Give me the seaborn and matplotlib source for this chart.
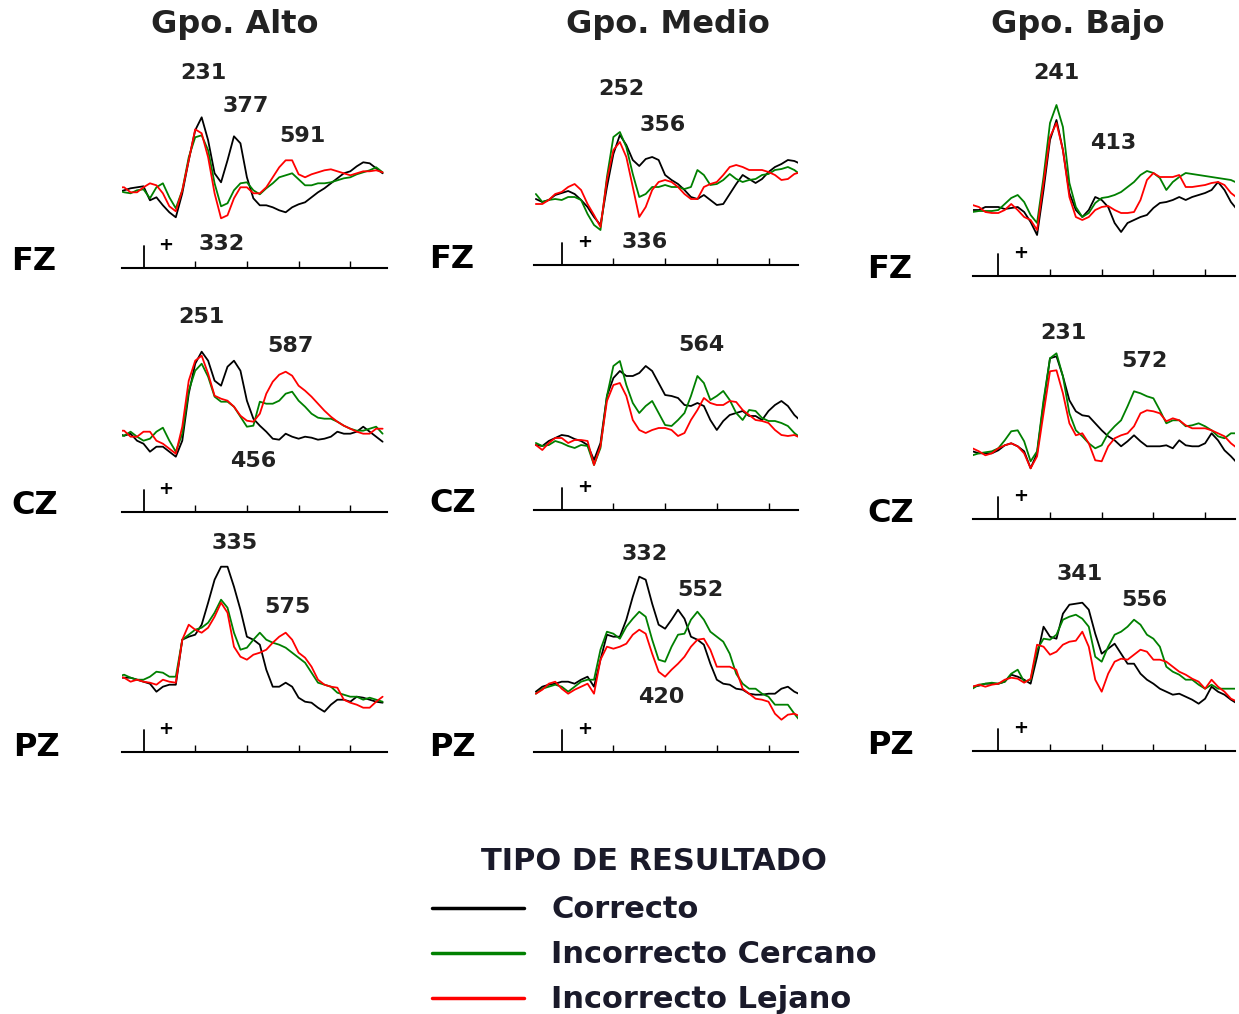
import matplotlib
matplotlib.use("Agg")
import matplotlib.pyplot as plt
import seaborn as sns
import pandas as pd
from matplotlib.lines import Line2D

# ---------------- data (amplitude in microvolts, relative to baseline) -------------
TIMES = list(range(-100, 926, 25))  # ms

FZ_ALTO_CORRECTO = [-0.2, 0.0, 0.2, 0.3, 0.4, -1.0, -0.7, -1.5, -2.2, -2.7, -0.3, 3.0, 6.0, 7.3, 5.0, 1.7, 0.8, 3.0, 5.4, 4.7, 1.3, -0.8, -1.5, -1.5, -1.7, -2.0, -2.2, -1.7, -1.4, -1.2, -0.7, -0.2, 0.2, 0.7, 1.2, 1.7, 1.9, 2.4, 2.8, 2.7, 2.2, 1.7]
FZ_ALTO_CERCANO = [0.0, -0.2, -0.3, 0.0, 0.1, -0.8, 0.3, 0.7, -0.7, -1.8, 0.0, 3.3, 5.3, 5.5, 4.0, 0.7, -1.6, -1.3, 0.0, 0.7, 0.8, 0.0, -0.4, 0.2, 0.7, 1.3, 1.5, 1.7, 1.1, 0.5, 0.5, 0.7, 0.7, 0.8, 1.0, 1.2, 1.3, 1.6, 1.8, 2.0, 2.3, 1.8]
FZ_ALTO_LEJANO = [0.3, 0.3, -0.2, -0.2, 0.3, 0.7, 0.5, -0.3, -1.6, -2.1, 0.0, 3.0, 6.1, 5.7, 3.3, -0.3, -2.8, -2.5, -0.8, 0.3, 0.3, -0.3, -0.3, 0.3, 1.3, 2.3, 3.0, 3.0, 1.6, 1.3, 1.6, 1.8, 2.0, 2.1, 1.9, 1.7, 1.5, 1.7, 1.9, 1.9, 2.0, 1.8]

CZ_ALTO_CORRECTO = [0.0, -0.2, 0.0, -0.7, -1.0, -1.8, -1.3, -1.3, -1.8, -2.3, -0.7, 4.0, 7.0, 8.2, 7.3, 5.3, 4.8, 6.7, 7.3, 6.3, 3.3, 1.5, 0.8, 0.2, -0.5, -0.6, 0.0, -0.3, -0.5, -0.3, -0.4, -0.6, -0.5, -0.3, 0.2, 0.0, 0.0, 0.2, 0.7, 0.2, -0.3, -0.8]
CZ_ALTO_CERCANO = [-0.2, -0.2, 0.2, -0.3, -0.7, -0.5, 0.2, 0.6, -0.7, -1.8, 0.0, 4.3, 6.3, 7.0, 5.7, 3.7, 3.2, 3.2, 2.7, 1.7, 0.7, 0.8, 3.2, 3.0, 3.0, 3.3, 4.0, 4.2, 3.3, 2.7, 2.0, 1.6, 1.5, 1.5, 1.2, 0.8, 0.5, 0.3, 0.3, 0.5, 0.7, 0.0]
CZ_ALTO_LEJANO = [0.3, 0.3, -0.3, -0.3, 0.2, 0.2, -0.7, -1.0, -1.5, -2.0, 0.7, 5.3, 7.3, 7.8, 6.0, 3.8, 3.5, 3.3, 2.7, 1.8, 1.3, 1.2, 2.0, 4.0, 5.2, 5.9, 6.2, 5.8, 4.8, 4.3, 3.7, 3.0, 2.3, 1.7, 1.2, 0.8, 0.5, 0.2, 0.0, 0.0, 0.5, 0.5]

PZ_ALTO_CORRECTO = [0.2, 0.2, 0.2, 0.0, -0.2, -0.4, -1.2, -0.7, -0.5, -0.5, 4.0, 4.3, 4.5, 5.5, 7.7, 10.0, 11.3, 11.3, 9.3, 7.0, 4.3, 4.0, 3.5, 1.0, -0.7, -0.7, -0.3, -0.7, -1.8, -2.2, -2.3, -2.8, -3.2, -2.5, -2.0, -2.0, -2.2, -1.7, -1.8, -2.0, -2.2, -2.3]
PZ_ALTO_CERCANO = [0.3, 0.5, 0.2, 0.0, 0.0, 0.3, 0.8, 0.7, 0.3, 0.3, 4.0, 4.5, 5.0, 5.2, 5.7, 6.7, 8.0, 7.2, 4.7, 3.0, 3.2, 4.0, 4.7, 4.0, 3.7, 3.5, 3.2, 2.7, 2.2, 1.7, 0.7, -0.3, -0.5, -0.7, -1.3, -1.5, -1.7, -1.7, -2.0, -1.8, -2.0, -2.2]
PZ_ALTO_LEJANO = [0.3, 0.2, -0.2, 0.0, -0.2, -0.3, -0.5, 0.0, -0.2, -0.3, 4.0, 5.5, 5.0, 4.7, 5.2, 6.3, 7.7, 6.7, 3.3, 2.3, 2.0, 2.5, 2.7, 3.0, 3.7, 4.3, 4.7, 4.0, 2.7, 2.2, 1.3, 0.0, -0.5, -0.7, -0.8, -2.0, -2.3, -2.5, -2.8, -2.8, -2.2, -1.7]

FZ_MEDIO_CORRECTO = [0.3, 0.0, 0.2, 0.7, 0.9, 1.1, 0.8, 0.2, -0.5, -1.5, -2.3, 1.5, 4.8, 6.7, 5.7, 4.2, 3.6, 4.3, 4.5, 4.2, 2.7, 2.2, 1.8, 1.2, 0.5, 0.3, 0.7, 0.2, -0.3, -0.2, 0.8, 1.8, 2.7, 2.3, 1.9, 2.3, 3.0, 3.5, 3.8, 4.2, 4.1, 3.8]
FZ_MEDIO_CERCANO = [0.8, 0.0, 0.2, 0.3, 0.2, 0.5, 0.5, 0.2, -1.2, -2.3, -2.8, 2.5, 6.5, 7.0, 5.5, 2.8, 0.5, 0.8, 1.5, 1.5, 1.7, 1.5, 1.5, 1.3, 1.5, 3.2, 2.7, 1.7, 1.8, 2.2, 2.8, 2.3, 2.0, 2.2, 2.3, 2.7, 2.8, 3.2, 3.3, 3.5, 3.2, 2.7]
FZ_MEDIO_LEJANO = [-0.2, -0.2, 0.2, 0.8, 1.0, 1.5, 1.8, 1.2, -0.2, -1.3, -2.5, 2.2, 5.2, 6.0, 4.5, 1.5, -1.5, -0.5, 1.2, 2.0, 2.2, 2.0, 1.5, 0.8, 0.3, 0.3, 1.5, 1.8, 2.0, 2.7, 3.5, 3.7, 3.5, 3.2, 3.2, 3.2, 3.0, 2.7, 2.2, 2.3, 2.8, 3.0]

CZ_MEDIO_CORRECTO = [-0.2, -0.3, 0.2, 0.5, 0.8, 0.7, 0.4, 0.2, -0.2, -1.7, 0.0, 4.7, 6.5, 7.2, 6.7, 6.7, 7.0, 7.7, 7.2, 6.0, 4.8, 4.7, 4.5, 3.8, 3.7, 4.0, 3.7, 2.3, 1.3, 2.2, 2.8, 3.0, 3.2, 2.7, 2.7, 2.3, 3.2, 3.8, 4.2, 3.7, 2.8, 2.2]
CZ_MEDIO_CERCANO = [0.0, -0.3, -0.2, 0.2, 0.0, -0.3, -0.5, -0.2, -0.3, -2.2, -0.5, 4.7, 7.7, 8.2, 5.8, 4.0, 3.0, 3.7, 4.2, 3.0, 1.8, 1.7, 2.3, 3.0, 4.7, 6.7, 6.0, 4.3, 4.7, 5.2, 4.3, 3.0, 2.3, 3.3, 3.2, 2.5, 2.2, 2.2, 2.0, 1.7, 1.0, 0.5]
CZ_MEDIO_LEJANO = [-0.2, -0.7, 0.0, 0.5, 0.5, 0.0, 0.3, 0.3, 0.2, -2.2, -0.3, 4.2, 5.8, 6.0, 4.7, 2.3, 1.3, 1.0, 1.3, 1.5, 1.5, 1.3, 0.7, 1.0, 2.3, 3.3, 4.5, 4.0, 3.8, 3.8, 4.2, 4.1, 3.3, 2.8, 2.3, 2.2, 2.0, 1.3, 0.8, 0.7, 0.8, 0.5]

PZ_MEDIO_CORRECTO = [0.0, 0.5, 0.7, 0.8, 1.0, 1.0, 0.8, 1.2, 1.5, 0.5, 3.2, 5.7, 5.5, 5.5, 7.2, 9.5, 11.5, 11.2, 8.8, 6.7, 6.3, 7.2, 8.2, 7.3, 5.5, 5.2, 4.7, 2.8, 1.2, 0.8, 0.7, 0.3, 0.2, -0.2, -0.3, -0.3, -0.2, -0.2, 0.3, 0.5, 0.0, -0.3]
PZ_MEDIO_CERCANO = [-0.2, 0.3, 0.5, 0.7, 0.5, 0.0, 0.5, 1.0, 1.2, 1.2, 4.2, 6.0, 5.8, 5.3, 6.5, 7.3, 8.0, 7.5, 5.2, 3.2, 3.0, 4.5, 5.7, 5.8, 7.2, 8.0, 7.2, 6.0, 5.5, 5.0, 3.8, 1.8, 0.8, 0.3, 0.3, -0.2, -0.5, -1.3, -1.3, -1.3, -2.2, -3.0]
PZ_MEDIO_LEJANO = [-0.2, 0.2, 0.8, 1.0, 0.3, -0.2, 0.2, 0.5, 0.8, -0.2, 3.2, 4.5, 4.3, 4.5, 4.8, 5.7, 6.2, 5.8, 3.8, 2.0, 1.5, 2.2, 2.8, 3.5, 4.5, 5.2, 5.3, 4.2, 2.5, 2.5, 2.5, 2.2, 0.3, -0.2, -0.7, -0.8, -1.0, -2.2, -2.8, -2.3, -2.2, -2.5]

FZ_BAJO_CORRECTO = [0.0, 0.0, 0.3, 0.3, 0.3, 0.1, 0.2, 0.3, -0.2, -1.2, -2.5, 2.0, 7.0, 9.0, 6.0, 1.7, 0.0, -0.7, 0.0, 1.3, 1.0, 0.3, -1.3, -2.2, -1.3, -1.0, -0.7, -0.5, 0.2, 0.7, 0.8, 1.0, 1.3, 1.0, 1.3, 1.5, 1.7, 2.0, 2.8, 2.0, 0.8, 0.0]
FZ_BAJO_CERCANO = [-0.2, -0.1, -0.1, -0.1, 0.0, 0.6, 1.2, 1.5, 0.8, -0.5, -1.3, 3.3, 8.7, 10.5, 8.3, 2.7, 0.3, -0.7, -0.3, 0.7, 1.2, 1.3, 1.5, 1.8, 2.3, 2.8, 3.5, 3.9, 3.7, 3.2, 2.0, 2.8, 3.3, 3.7, 3.6, 3.5, 3.4, 3.3, 3.2, 3.1, 3.0, 2.7]
FZ_BAJO_LEJANO = [0.5, 0.3, -0.2, -0.3, -0.3, 0.0, 0.6, 0.0, -0.7, -1.0, -2.0, 2.7, 7.3, 8.7, 6.0, 1.3, -0.7, -1.0, -0.7, 0.0, 0.3, 0.4, 0.0, -0.3, -0.3, -0.2, 1.0, 3.0, 3.7, 3.3, 3.3, 3.3, 3.5, 2.3, 2.3, 2.4, 2.5, 2.7, 2.8, 2.5, 1.7, 1.2]

CZ_BAJO_CORRECTO = [0.2, 0.0, 0.0, 0.0, 0.3, 0.8, 1.0, 0.7, 0.2, -1.5, 0.0, 5.0, 9.5, 9.7, 7.7, 5.3, 4.2, 3.8, 3.7, 3.0, 2.3, 1.7, 1.3, 0.7, 1.2, 1.8, 1.2, 0.7, 0.7, 0.7, 0.8, 0.5, 1.3, 0.8, 0.7, 0.7, 1.0, 2.0, 1.3, 0.3, -0.3, -1.0]
CZ_BAJO_CERCANO = [-0.2, 0.0, 0.1, 0.2, 0.5, 1.3, 2.2, 2.3, 1.2, -0.8, 0.2, 5.3, 9.5, 10.0, 7.7, 4.0, 2.3, 1.7, 1.0, 0.5, 0.8, 2.0, 2.7, 3.3, 4.7, 6.2, 6.0, 5.7, 5.5, 4.3, 3.0, 3.3, 3.3, 2.7, 2.8, 3.0, 2.7, 2.3, 1.7, 1.5, 2.0, 2.0]
CZ_BAJO_LEJANO = [0.5, 0.2, -0.2, 0.0, 0.5, 0.8, 1.0, 0.7, 0.0, -1.5, -0.3, 4.0, 8.2, 8.3, 6.0, 3.0, 1.8, 2.0, 1.0, -0.7, -0.8, 0.7, 1.5, 1.8, 2.0, 2.7, 4.0, 4.3, 4.2, 4.0, 3.2, 3.5, 3.3, 2.8, 2.5, 2.5, 2.5, 2.3, 2.0, 1.7, 1.0, 0.5]

PZ_BAJO_CORRECTO = [0.0, 0.1, 0.3, 0.3, 0.3, 0.5, 1.2, 1.0, 0.7, 0.3, 3.0, 6.0, 5.0, 4.8, 7.3, 8.2, 8.3, 8.4, 7.7, 5.3, 3.3, 3.8, 4.3, 3.3, 2.3, 2.3, 1.3, 0.7, 0.3, -0.2, -0.5, -0.8, -0.7, -1.0, -1.3, -1.7, -1.2, 0.0, -0.5, -0.8, -1.3, -1.7]
PZ_BAJO_CERCANO = [-0.2, 0.2, 0.3, 0.4, 0.3, 0.5, 1.3, 1.7, 0.5, 0.7, 3.7, 4.8, 4.7, 5.2, 6.7, 7.0, 7.2, 6.8, 6.0, 3.0, 2.5, 4.0, 5.2, 5.5, 6.0, 6.7, 6.2, 5.2, 4.8, 4.0, 2.0, 1.5, 1.2, 0.7, 0.7, 0.2, -0.2, 0.2, -0.2, -0.2, -0.2, -0.2]
PZ_BAJO_LEJANO = [0.0, 0.2, 0.0, 0.2, 0.3, 0.7, 0.9, 0.8, 0.4, 0.8, 4.2, 4.0, 3.2, 3.5, 4.2, 4.5, 4.6, 5.5, 4.0, 0.7, -0.5, 1.3, 2.5, 2.8, 2.7, 3.2, 3.7, 3.5, 2.7, 2.7, 2.5, 2.0, 1.5, 1.2, 0.8, 0.5, -0.2, 0.7, 0.0, -0.5, -1.2, -1.5]

GROUPS = ["Gpo. Alto", "Gpo. Medio", "Gpo. Bajo"]
ELECTRODES = ["FZ", "CZ", "PZ"]
CONDITIONS = ["Correcto", "Incorrecto Cercano", "Incorrecto Lejano"]
LEGEND_TITLE = "TIPO DE RESULTADO"

WAVES = {
    ("Gpo. Alto", "FZ"): [FZ_ALTO_CORRECTO, FZ_ALTO_CERCANO, FZ_ALTO_LEJANO],
    ("Gpo. Alto", "CZ"): [CZ_ALTO_CORRECTO, CZ_ALTO_CERCANO, CZ_ALTO_LEJANO],
    ("Gpo. Alto", "PZ"): [PZ_ALTO_CORRECTO, PZ_ALTO_CERCANO, PZ_ALTO_LEJANO],
    ("Gpo. Medio", "FZ"): [FZ_MEDIO_CORRECTO, FZ_MEDIO_CERCANO, FZ_MEDIO_LEJANO],
    ("Gpo. Medio", "CZ"): [CZ_MEDIO_CORRECTO, CZ_MEDIO_CERCANO, CZ_MEDIO_LEJANO],
    ("Gpo. Medio", "PZ"): [PZ_MEDIO_CORRECTO, PZ_MEDIO_CERCANO, PZ_MEDIO_LEJANO],
    ("Gpo. Bajo", "FZ"): [FZ_BAJO_CORRECTO, FZ_BAJO_CERCANO, FZ_BAJO_LEJANO],
    ("Gpo. Bajo", "CZ"): [CZ_BAJO_CORRECTO, CZ_BAJO_CERCANO, CZ_BAJO_LEJANO],
    ("Gpo. Bajo", "PZ"): [PZ_BAJO_CORRECTO, PZ_BAJO_CERCANO, PZ_BAJO_LEJANO],
}

# latency annotations: (label, time ms, amplitude uV)
PEAKS = {
    ("Gpo. Alto", "FZ"): [("231", 231, 11.7), ("377", 394, 8.4), ("591", 614, 5.4), ("332", 304, -5.4)],
    ("Gpo. Alto", "CZ"): [("251", 223, 11.7), ("587", 570, 8.8), ("456", 423, -2.7)],
    ("Gpo. Alto", "PZ"): [("335", 352, 13.7), ("575", 558, 7.3)],
    ("Gpo. Medio", "FZ"): [("252", 232, 11.3), ("356", 392, 7.7), ("336", 322, -4.0)],
    ("Gpo. Medio", "CZ"): [("564", 542, 9.8)],
    ("Gpo. Medio", "PZ"): [("332", 322, 13.8), ("552", 535, 10.2), ("420", 387, -0.5)],
    ("Gpo. Bajo", "FZ"): [("241", 226, 13.7), ("413", 445, 6.7)],
    ("Gpo. Bajo", "CZ"): [("231", 251, 12.0), ("572", 567, 9.2)],
    ("Gpo. Bajo", "PZ"): [("341", 316, 11.3), ("556", 567, 8.7)],
}

PALETTE = {"Correcto": "#000000", "Incorrecto Cercano": "#008000", "Incorrecto Lejano": "#ff0000"}

# ---------------- layout (pixels) ----------------
W, H = 1239, 1014
PX_MS = 0.2585       # px per ms
PX_UV = 10.0         # px per microvolt
AX_H_PX = 200
ZERO_X_PX = [143.5, 561.7, 998.3]
XLIM = [(-84, 942), (-106, 915), (-99, 917)]
AXIS_Y_PX = [[268.3, 511.7, 751.7], [265.0, 510.0, 751.7], [276.0, 519.3, 750.7]]
YMIN = [[-7.8, -7.8, -7.2], [-6.3, -6.7, -6.0], [-6.6, -6.6, -6.4]]
TITLE_PX = [(235, 24), (668, 24), (1078, 24)]
ELEC_PX = [[(34, 262), (35, 505), (37, 747)],
           [(452, 260), (453, 503), (453, 747)],
           [(890, 270), (891, 514), (891, 745)]]

# ---------------- build data frame ----------------
rows = []
for (g, e), curves in WAVES.items():
    for cond, vals in zip(CONDITIONS, curves):
        for t, v in zip(TIMES, vals):
            rows.append({"group": g, "electrode": e, "cond": cond, "time": t, "amp": v})
df = pd.DataFrame(rows)

sns.set_theme(style="white")
plt.rcParams["font.family"] = ["DejaVu Sans"]

fig = plt.figure(figsize=(W / 100, H / 100), dpi=100)
fig.patch.set_facecolor("white")

for ci, g in enumerate(GROUPS):
    for ri, e in enumerate(ELECTRODES):
        xmin, xmax = XLIM[ci]
        x0 = ZERO_X_PX[ci]
        left = (x0 + xmin * PX_MS) / W
        width = (xmax - xmin) * PX_MS / W
        axis_y = AXIS_Y_PX[ci][ri]
        ax = fig.add_axes([left, 1 - axis_y / H, width, AX_H_PX / H])
        ax.patch.set_alpha(0)
        sub = df[(df.group == g) & (df.electrode == e)]
        sns.lineplot(data=sub, x="time", y="amp", hue="cond", hue_order=CONDITIONS,
                     palette=PALETTE, estimator=None, linewidth=1.3, legend=False, ax=ax)
        ymin = YMIN[ci][ri]
        ax.set_xlim(xmin, xmax)
        ax.set_ylim(ymin, ymin + AX_H_PX / PX_UV)
        for s in ["top", "right", "left"]:
            ax.spines[s].set_visible(False)
        ax.spines["bottom"].set_linewidth(1.5)
        ax.spines["bottom"].set_color("black")
        ax.set_xticks([200, 400, 600, 800])
        ax.set_yticks([])
        ax.tick_params(axis="x", direction="in", length=5, width=1.0, colors="black",
                       bottom=True, labelbottom=False)
        ax.set_xlabel("")
        ax.set_ylabel("")
        ax.plot([0, 0], [ymin, ymin + 2.2], color="black", lw=1.3, clip_on=False)
        ax.text(87, ymin + 2.3, "+", ha="center", va="center", fontsize=13,
                fontweight="bold", color="black")
        for txt, t, v in PEAKS[(g, e)]:
            ax.text(t, v, txt, ha="center", va="center", fontsize=16,
                    fontweight="bold", color="#222222")
        ex, ey = ELEC_PX[ci][ri]
        fig.text(ex / W, 1 - ey / H, e, ha="center", va="center", fontsize=23,
                 fontweight="bold", color="black")
    tx, ty = TITLE_PX[ci]
    fig.text(tx / W, 1 - ty / H, g, ha="center", va="center", fontsize=23,
             fontweight="bold", color="#222222")

handles = [Line2D([0], [0], color=PALETTE[c], lw=2.5) for c in CONDITIONS]
leg = fig.legend(handles, CONDITIONS, title=LEGEND_TITLE, loc="upper left",
                 bbox_to_anchor=(432 / W, 1 - 847 / H), frameon=False, borderpad=0,
                 borderaxespad=0, handlelength=3.0, handletextpad=0.9, labelspacing=0.52,
                 prop={"size": 22, "weight": "bold"},
                 title_fontproperties={"size": 22, "weight": "bold"})
leg._legend_box.sep = 14
for t in leg.get_texts():
    t.set_color("#1a1a2a")
leg.get_title().set_color("#1a1a2a")

fig.savefig("out.png", dpi=100)
